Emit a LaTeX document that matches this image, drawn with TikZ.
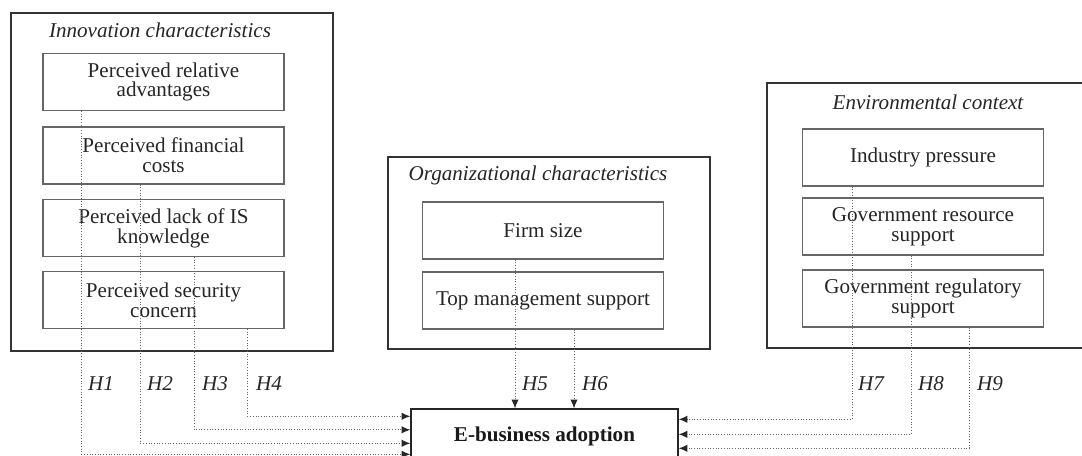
\documentclass[tikz,border=0pt]{standalone}
\usepackage{fontspec}
\setmainfont{Liberation Serif}
\usetikzlibrary{calc,arrows.meta}

\tikzset{
  group/.style={draw=black!80, line width=0.8pt},
  grouptitle/.style={font=\fontsize{12}{12}\selectfont\itshape, text=black!85},
  factor/.style={draw=black!60, line width=0.6pt, minimum width=4.82cm, minimum height=1.14cm,
    align=center, inner sep=1pt, text=black!85, font=\fontsize{12}{11.3}\selectfont},
  outcome/.style={draw=black!85, line width=0.8pt, minimum width=5.34cm, minimum height=1.08cm,
    font=\fontsize{12}{12}\selectfont\bfseries, text=black!90},
  hyp/.style={draw=black!60, densely dotted, line width=0.55pt,
    -{Latex[length=5pt,width=4.2pt,black!85]}},
  hlab/.style={anchor=west, inner sep=1pt, font=\fontsize{12}{12}\selectfont\itshape, text=black!85}
}

\begin{document}
\begin{tikzpicture}[x=0.02cm, y=-0.02cm]
\useasboundingbox (0,0) rectangle (1082,456);
\fill[white] (0,0) rectangle (1082,456);

%innovation characteristics
\draw[group] (11,13) rectangle (333,351);
\node[grouptitle] (innov) at (160,30) {Innovation characteristics};
\node[factor] (adv)   at (163.5,82)  {Perceived relative\\advantages};
\node[factor] (cost)  at (163.5,155.5) {Perceived financial\\costs};
\node[factor] (know)  at (163.5,228) {Perceived lack of IS\\knowledge};
\node[factor] (secur) at (163.5,300) {Perceived security\\concern};

%organizational characteristics
\draw[group] (388,157) rectangle (710,349);
\node[grouptitle] (organ) at (538,175) {Organizational characteristics};
\node[factor] (size) at (543,230.5) {Firm size};
\node[factor] (topm) at (543,300.5) {Top management support};

%environmental context
\draw[group] (767,83) rectangle (1090,348);
\node[grouptitle] (envir) at (928,102) {Environmental context};
\node[factor] (indp)   at (923,157.5) {Industry pressure};
\node[factor] (govres) at (923,226.5) {Government resource\\support};
\node[factor] (govreg) at (923,298.5) {Government regulatory\\support};

%dependent variable
\node[outcome] (adopt) at (544.5,436) {E-business adoption};

%hypotheses from the left
\draw[hyp] ($(adv.south west)+(39,0)$)   |- ($(adopt.north west)+(0,46)$);
\draw[hyp] ($(cost.south west)+(98,0)$)  |- ($(adopt.north west)+(0,35)$);
\draw[hyp] ($(know.south west)+(152,0)$) |- ($(adopt.north west)+(0,21.5)$);
\draw[hyp] ($(secur.south west)+(205,0)$) |- ($(adopt.north west)+(0,8)$);

%hypotheses from above
\coordinate (h5) at ($(adopt.north)+(-29.5,0)$);
\coordinate (h6) at ($(adopt.north)+(29.5,0)$);
\draw[hyp] (size.south -| h5) -- (h5);
\draw[hyp] (topm.south -| h6) -- (h6);

%hypotheses from the right
\draw[hyp] ($(indp.south west)+(50,0)$)    |- ($(adopt.north east)+(0,11)$);
\draw[hyp] ($(govres.south west)+(109,0)$) |- ($(adopt.north east)+(0,26)$);
\draw[hyp] ($(govreg.south west)+(167,0)$) |- ($(adopt.north east)+(0,40)$);

\node[hlab] (l1) at (86,384)  {H1};
\node[hlab] (l2) at (145,384) {H2};
\node[hlab] (l3) at (200,384) {H3};
\node[hlab] (l4) at (254,384) {H4};
\node[hlab] (l5) at (520,384) {H5};
\node[hlab] (l6) at (580,384) {H6};
\node[hlab] (l7) at (856,384) {H7};
\node[hlab] (l8) at (916,384) {H8};
\node[hlab] (l9) at (975,384) {H9};
\end{tikzpicture}
\end{document}
